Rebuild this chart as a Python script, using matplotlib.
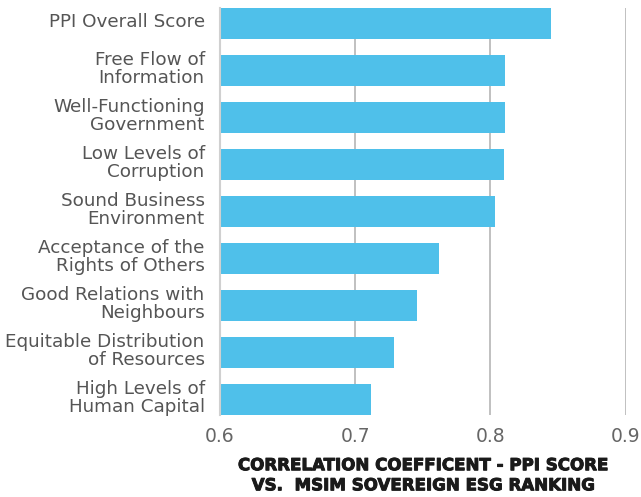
import matplotlib.pyplot as plt
import matplotlib.patheffects as pe
import matplotlib.transforms as mtransforms

labels = [
    "PPI Overall Score",
    "Free Flow of\nInformation",
    "Well-Functioning\nGovernment",
    "Low Levels of\nCorruption",
    "Sound Business\nEnvironment",
    "Acceptance of the\nRights of Others",
    "Good Relations with\nNeighbours",
    "Equitable Distribution\nof Resources",
    "High Levels of\nHuman Capital",
]
values = [0.845, 0.811, 0.811, 0.810, 0.803, 0.762, 0.746, 0.729, 0.712]
x_ticks = [0.6, 0.7, 0.8, 0.9]
x_label = "CORRELATION COEFFICENT - PPI SCORE\nVS.  MSIM SOVEREIGN ESG RANKING"

plt.rcParams['font.family'] = ['DejaVu Sans']

fig = plt.figure(figsize=(6.41, 4.97), dpi=100)
ax = fig.add_axes([0.3432, 0.165, 0.6329, 0.819])

y_pos = list(range(len(labels)))
ax.barh(y_pos, values, height=0.66, left=0, color='#4FC0EA', zorder=2)
ax.set_xlim(0.6, 0.9)
ax.set_ylim(len(labels) - 0.67, -0.33)

ax.set_xticks(x_ticks)
ax.set_xticklabels([f"{t:.1f}" for t in x_ticks], fontsize=13.5, color='#666666')
ax.set_yticks(y_pos)
ax.set_yticklabels(labels, fontsize=13.2, color='#555555', linespacing=1.0)
ax.tick_params(axis='both', length=0)
ax.tick_params(axis='y', pad=11)
ax.tick_params(axis='x', pad=9)

# nudge the category labels up a little
shift = mtransforms.ScaledTranslation(0, 3 / 100, fig.dpi_scale_trans)
for lbl in ax.get_yticklabels():
    lbl.set_transform(lbl.get_transform() + shift)

for t in x_ticks[1:]:
    ax.axvline(t, color='#b5b5b5', lw=1.2, zorder=1)

for s in ['top', 'right', 'bottom']:
    ax.spines[s].set_visible(False)
ax.spines['left'].set_color('#d0d0d0')
ax.spines['left'].set_linewidth(1.5)

xl = ax.set_xlabel(x_label, fontsize=12, fontweight='bold', color='#1a1a1a',
                   labelpad=7, linespacing=1.15)
xl.set_path_effects([pe.withStroke(linewidth=0.7, foreground='#1a1a1a')])

plt.savefig('out.png', dpi=100)
